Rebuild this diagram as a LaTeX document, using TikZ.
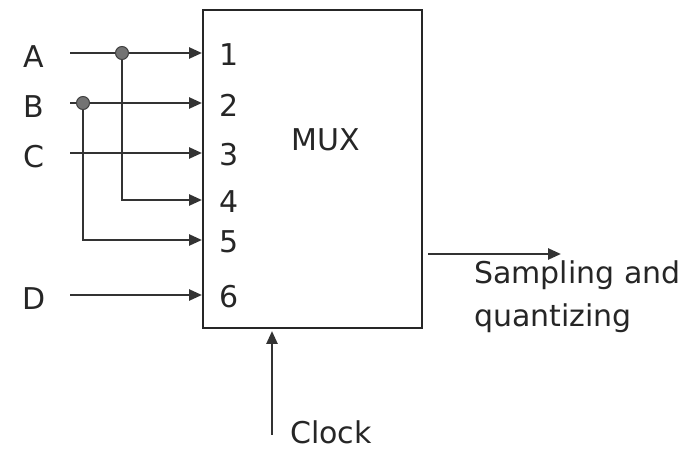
\documentclass[tikz,border=0pt]{standalone}
\usepackage{fontspec}
\setmainfont{DejaVu Sans}
\usetikzlibrary{arrows.meta}
\begin{document}
\begin{tikzpicture}[x=1pt,y=-1pt,
	sig/.style={line width=2.6pt,draw=black!80},
	pin/.style={sig,-{Triangle[length=13pt,width=11pt]}},
	jdot/.style={circle,fill=black!55,draw=black!75,line width=1pt,inner sep=0pt,minimum size=13pt},
	txt/.style={font=\fontsize{30}{43}\selectfont,text=black!85,inner sep=0pt}]
	\useasboundingbox (0,0) rectangle (689,454);
	% the block
	\node[draw=black!85,line width=2.8pt,minimum width=219pt,minimum height=318pt,inner sep=0pt] (mux) at (312.5,169) {};
	\node[txt] (muxlbl) at (326,140) {MUX};
	% input pins and numbers
	\foreach \n/\y in {1/53,2/103,3/153,4/200,5/240,6/295}{
		\coordinate (p\n) at (202,\y);
		\node[txt] (num\n) at (229,\y+2) {\n};
	}
	% signals
	\foreach \s/\y/\l in {a/53/A,b/103/B,c/153/C,d/295/D}{
		\coordinate (\s) at (70,\y);
		\node[txt] (lbl\s) at (34,\y+4) {\l};
	}
	\coordinate (ja) at (122,53);
	\coordinate (jb) at (83,103);
	\draw[pin] (a) -- (p1);
	\draw[pin] (b) -- (p2);
	\draw[pin] (c) -- (p3);
	\draw[pin] (ja) |- (p4);
	\draw[pin] (jb) |- (p5);
	\draw[pin] (d) -- (p6);
	\node[jdot] (dota) at (ja) {};
	\node[jdot] (dotb) at (jb) {};
	% output
	\coordinate (o1) at (428,254);
	\coordinate (o2) at (561,254);
	\draw[pin] (o1) -- (o2);
	\node[txt,align=left,anchor=west] (outlbl) at (474,297) {Sampling and\\quantizing};
	% clock
	\coordinate (ck1) at (272,435);
	\coordinate (ck2) at (272,331);
	\draw[pin] (ck1) -- (ck2);
	\node[txt,anchor=west] (cklbl) at (290,432) {Clock};
\end{tikzpicture}
\end{document}
